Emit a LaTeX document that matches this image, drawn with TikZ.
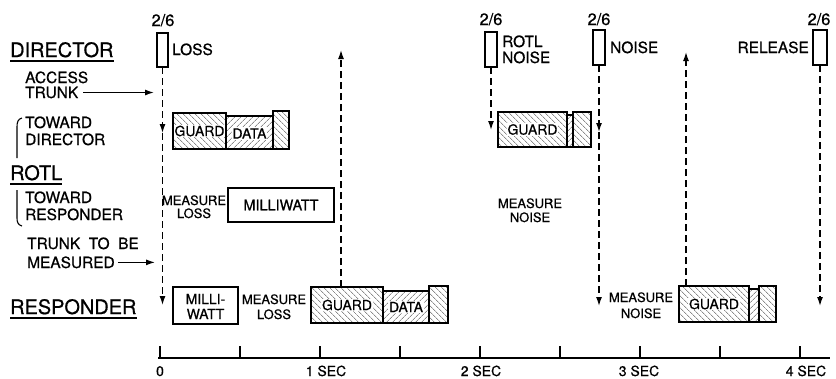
\documentclass[tikz,border=0pt]{standalone}
\usepackage{fontspec}
\setmainfont{TeX Gyre Heros}[FakeBold=0.7]
\usetikzlibrary{arrows.meta,patterns.meta}
\begin{document}
\begin{tikzpicture}[x=1bp,y=-1bp,
  lbl/.style={inner sep=0pt, anchor=base west, font=\fontsize{15.5}{15.5}\selectfont},
  big/.style={inner sep=0pt, anchor=base west, font=\fontsize{20}{20}\selectfont},
  sml/.style={inner sep=0pt, anchor=base, font=\fontsize{13}{13}\selectfont},
  axl/.style={inner sep=0pt, anchor=base, font=\fontsize{14}{14}\selectfont},
  frac/.style={inner sep=0pt, anchor=base, font=\fontsize{16.5}{16.5}\selectfont},
  sig/.style={draw, line width=1.3bp, inner sep=0pt, outer sep=0pt, anchor=north west},
  blk/.style={draw, line width=1.3bp, inner sep=0pt, outer sep=0pt, anchor=north west},
  gd/.style={blk, pattern={Lines[angle=-45,distance=4pt,line width=0.6pt]}, pattern color=black!70},
  dt/.style={blk, pattern={Lines[angle=45,distance=4pt,line width=0.6pt]}, pattern color=black!70},
  intxt/.style={fill=white, inner sep=1pt, font=\fontsize{14}{14}\selectfont},
  dsh/.style={line width=1.3bp, dash pattern=on 7bp off 4bp, -{Latex[length=9bp,width=6bp]}},
  sarr/.style={line width=1.3bp, -{Latex[length=9bp,width=6bp]}},
  uline/.style={line width=1.3bp},
]
\useasboundingbox (0,0) rectangle (836,378);

% ---------- left labels ----------
\node[big] (dir) at (10,57) {DIRECTOR};
\draw[uline] ([yshift=-4bp]dir.base west) -- ([yshift=-4bp]dir.base east);
\node[lbl] (acc1) at (25,83) {ACCESS};
\node[lbl] (acc2) at (25,98) {TRUNK};
\coordinate (accT) at (154,94);
\draw[sarr] ([xshift=5bp]acc2.east) -- (accT |- acc2.east);

\node[lbl] (td1) at (25,128) {TOWARD};
\node[lbl] (td2) at (25,145) {DIRECTOR};
\draw[line width=1.1bp] (22,118) .. controls (18,119) and (17,122) .. (17,127) -- (17,158);

\node[big] (rotl) at (10,180) {ROTL};
\draw[uline] ([yshift=-4bp]rotl.base west) -- ([yshift=-4bp]rotl.base east);

\node[lbl] (tr1) at (25,203) {TOWARD};
\node[lbl] (tr2) at (25,220) {RESPONDER};
\draw[line width=1.1bp] (17,190) -- (17,218) .. controls (17,222) and (18,225) .. (22,226);

\node[lbl] (tm1) at (27,249) {TRUNK\ \ TO\ \ BE};
\node[lbl] (tm2) at (27,268) {MEASURED};
\coordinate (tmT) at (155,263);
\draw[sarr] ([xshift=3bp]tm2.east) -- (tmT |- tm2.east);

\node[big] (resp) at (10,314) {RESPONDER};
\draw[uline] ([yshift=-4bp]resp.base west) -- ([yshift=-4bp]resp.base east);

% ---------- director signals ----------
\node[sig, minimum width=11bp, minimum height=34bp] (S1) at (157,33) {};
\node[sig, minimum width=12bp, minimum height=35bp] (S2) at (485,32) {};
\node[sig, minimum width=12bp, minimum height=35bp] (S3) at (593,30) {};
\node[sig, minimum width=14bp, minimum height=35bp] (S4) at (813,30) {};
\node[frac] (f1) at (163,26) {2/6};
\node[frac] (f2) at (491,25) {2/6};
\node[frac] (f3) at (599,25) {2/6};
\node[frac] (f4) at (819,25) {2/6};
\node[lbl] (loss) at (172,55) {LOSS};
\node[lbl] (rn1) at (502,47) {ROTL};
\node[lbl] (rn2) at (502,63) {NOISE};
\node[lbl] (noise) at (610,53) {NOISE};
\node[lbl, anchor=base east] (rel) at (809,53) {RELEASE};

% ---------- ROTL toward director ----------
\node[gd, minimum width=53bp, minimum height=36bp] (G1) at (173,113) {};
\node[dt, minimum width=47bp, minimum height=33bp] (D1) at (226,116) {};
\node[gd, minimum width=16bp, minimum height=38bp] (E1) at (273,111) {};
\node[intxt] (G1t) at (G1.center) {GUARD};
\node[intxt] (D1t) at ([yshift=-1bp]D1.center) {DATA};

\node[gd, minimum width=69bp, minimum height=35bp] (G3) at (498,112) {};
\node[dt, minimum width=6bp, minimum height=32bp] (T3) at (567,115) {};
\node[gd, minimum width=18bp, minimum height=35bp] (E3) at (573,112) {};
\node[intxt] (G3t) at (G3.center) {GUARD};

% ---------- ROTL toward responder ----------
\node[blk, minimum width=106bp, minimum height=34bp, font=\fontsize{14.5}{14.5}\selectfont] (MW1) at (228,188) {MILLIWATT};
\node[sml] (ml1a) at (194,205) {MEASURE};
\node[sml] (ml1b) at (194,218) {LOSS};
\node[sml] (mn1a) at (530,208) {MEASURE};
\node[sml] (mn1b) at (530,222) {NOISE};

% ---------- responder ----------
\node[blk, minimum width=65bp, minimum height=37bp] (MW2) at (173,287) {};
\node[sml, font=\fontsize{14}{14}\selectfont] (mw2a) at (205.5,304) {MILLI-};
\node[sml, font=\fontsize{14}{14}\selectfont] (mw2b) at (205.5,319) {WATT};
\node[sml] (ml2a) at (274,304) {MEASURE};
\node[sml] (ml2b) at (274,319) {LOSS};

\node[gd, minimum width=72bp, minimum height=36bp] (G2) at (311,287) {};
\node[dt, minimum width=46bp, minimum height=32bp] (D2) at (383,291) {};
\node[gd, minimum width=19bp, minimum height=37bp] (E2) at (429,286) {};
\node[intxt] (G2t) at (G2.center) {GUARD};
\node[intxt] (D2t) at (D2.center) {DATA};

\node[sml] (mn2a) at (641,302) {MEASURE};
\node[sml] (mn2b) at (641,318) {NOISE};
\node[gd, minimum width=70bp, minimum height=36bp] (G4) at (679,286) {};
\node[dt, minimum width=10bp, minimum height=33bp] (T4) at (749,289) {};
\node[gd, minimum width=17bp, minimum height=36bp] (E4) at (759,286) {};
\node[intxt] (G4t) at (G4.center) {GUARD};

% ---------- dashed signal arrows ----------
\coordinate (a1m) at (S1.south |- 0,133);
\coordinate (a1e) at (S1.south |- 0,305);
\draw[dsh] (S1.south) -- (a1m);
\draw[dsh] (a1m) -- (a1e);

\coordinate (a2t) at (341,50);
\draw[dsh] (a2t |- G2.north) -- (a2t);

\coordinate (a3e) at (S2.south |- 0,130);
\draw[dsh] (S2.south) -- (a3e);

\coordinate (a4m) at (S3.south |- 0,132);
\coordinate (a4e) at (S3.south |- 0,306);
\draw[dsh] (S3.south) -- (a4m);
\draw[dsh] (a4m) -- (a4e);

\coordinate (a5t) at (686,52);
\draw[dsh] (a5t |- G4.north) -- (a5t);

\coordinate (a6e) at (S4.south |- 0,306);
\draw[dsh] (S4.south) -- (a6e);

% ---------- time axis ----------
\coordinate (ax0) at (158,358);
\coordinate (ax1) at (830,358);
\draw[line width=1.5bp] (ax0) -- (ax1);
\foreach \k in {0,...,8} {
  \draw[line width=1.5bp] (160+80*\k,346) -- (160+80*\k,358);
}
\node[axl] (t0) at (160,376) {0};
\node[axl] (t1) at (326,376) {1 SEC};
\node[axl] (t2) at (481,376) {2 SEC};
\node[axl] (t3) at (639,376) {3 SEC};
\node[axl] (t4) at (806,376) {4 SEC};
\end{tikzpicture}
\end{document}
